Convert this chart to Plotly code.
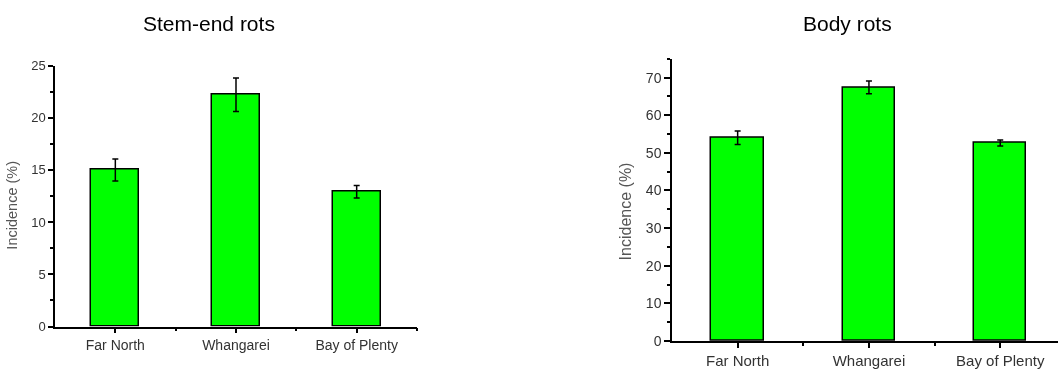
import plotly.graph_objects as go

# Sites sampled and the mean incidence (%) of each rot type, with standard errors
sites = ["Far North", "Whangarei", "Bay of Plenty"]
stem_end_mean = [15.0, 22.2, 12.9]
stem_end_err = [1.05, 1.6, 0.6]
body_mean = [54.0, 67.4, 52.6]
body_err = [1.8, 1.7, 0.8]

W, H = 1058, 371
x_pos = list(range(len(sites)))

BAR_FILL = "#00ff00"
LABEL_FONT = "Arial, Liberation Sans, sans-serif"


def px_x(p):
    return p / W


def px_y(p):
    return (H - p) / H


def bar_trace(values, errors, xa, ya):
    return go.Bar(
        x=x_pos,
        y=values,
        width=0.4,
        marker=dict(color=BAR_FILL, line=dict(color="black", width=1.5)),
        error_y=dict(type="data", array=errors, visible=True,
                     color="black", thickness=1.5, width=3),
        xaxis=xa,
        yaxis=ya,
        showlegend=False,
        hoverinfo="x+y",
    )


fig = go.Figure()
fig.add_trace(bar_trace(stem_end_mean, stem_end_err, "x", "y"))
fig.add_trace(bar_trace(body_mean, body_err, "x2", "y2"))

common_x = dict(
    tickmode="array",
    tickvals=x_pos,
    ticktext=sites,
    ticks="outside",
    ticklen=5,
    tickwidth=1.5,
    tickcolor="black",
    showline=True,
    linecolor="black",
    linewidth=1.5,
    showgrid=False,
    zeroline=False,
    minor=dict(tickmode="array", tickvals=[0.5, 1.5, 2.5], ticks="outside",
               ticklen=3, tickwidth=1.5, tickcolor="black", showgrid=False),
)
common_y = dict(
    ticks="outside",
    tickwidth=1.5,
    tickcolor="black",
    showline=True,
    linecolor="black",
    linewidth=1.5,
    showgrid=False,
    zeroline=False,
)

fig.update_layout(
    width=W,
    height=H,
    margin=dict(l=0, r=0, t=0, b=0),
    paper_bgcolor="white",
    plot_bgcolor="white",
    bargap=0,
    xaxis=dict(common_x, domain=[px_x(55), px_x(417)], range=[-0.5, 2.5],
               anchor="y", tickfont=dict(family=LABEL_FONT, size=14, color="#333")),
    yaxis=dict(common_y, domain=[px_y(333), px_y(61)], range=[0, 25],
               anchor="x", dtick=5, ticklen=5,
               tickfont=dict(family=LABEL_FONT, size=13, color="#333"),
               minor=dict(dtick=2.5, ticks="outside", ticklen=3, tickwidth=1.5,
                          tickcolor="black", showgrid=False)),
    xaxis2=dict(common_x, domain=[px_x(672), 1.0], range=[-0.5, 2.44],
                anchor="y2", tickfont=dict(family=LABEL_FONT, size=15, color="#333")),
    yaxis2=dict(common_y, domain=[px_y(348), px_y(54)], range=[0, 75],
                anchor="x2", dtick=10, ticklen=6,
                tickfont=dict(family=LABEL_FONT, size=14, color="#333"),
                minor=dict(dtick=5, ticks="outside", ticklen=3, tickwidth=1.5,
                           tickcolor="black", showgrid=False)),
)

annotations = [
    dict(text="Stem-end rots", x=px_x(209), y=px_y(17),
         font=dict(family=LABEL_FONT, size=21, color="black")),
    dict(text="Body rots", x=px_x(847), y=px_y(17),
         font=dict(family=LABEL_FONT, size=21, color="black")),
    dict(text="Incidence (%)", x=px_x(12), y=px_y(207), textangle=-90,
         font=dict(family=LABEL_FONT, size=14.5, color="#555")),
    dict(text="Incidence (%)", x=px_x(625), y=px_y(213), textangle=-90,
         font=dict(family=LABEL_FONT, size=16, color="#555")),
]
for a in annotations:
    a.update(xref="paper", yref="paper", xanchor="center", yanchor="middle",
             showarrow=False)
fig.update_layout(annotations=annotations)

# Slight softening of the plot areas and axis titles (titles stay crisp)
soften_js = """
var gd = document.getElementById('{plot_id}');
function soften() {
  var svg = gd.querySelector('svg.main-svg');
  if (!svg) return;
  var ns = 'http://www.w3.org/2000/svg';
  if (!svg.querySelector('#soft-blur')) {
    var defs = document.createElementNS(ns, 'defs');
    var f = document.createElementNS(ns, 'filter');
    f.setAttribute('id', 'soft-blur');
    f.setAttribute('filterUnits', 'userSpaceOnUse');
    f.setAttribute('x', '-20'); f.setAttribute('y', '-20');
    f.setAttribute('width', '1120'); f.setAttribute('height', '420');
    var g = document.createElementNS(ns, 'feGaussianBlur');
    g.setAttribute('stdDeviation', '0.5');
    f.appendChild(g); defs.appendChild(f); svg.insertBefore(defs, svg.firstChild);
  }
  var layer = svg.querySelector('.cartesianlayer');
  if (layer) layer.setAttribute('filter', 'url(#soft-blur)');
  gd.querySelectorAll('.annotation[data-index="2"], .annotation[data-index="3"]').forEach(function (el) {
    el.setAttribute('filter', 'url(#soft-blur)');
  });
}
soften();
setTimeout(soften, 0);
"""

fig.write_html("out.html", post_script=soften_js)
